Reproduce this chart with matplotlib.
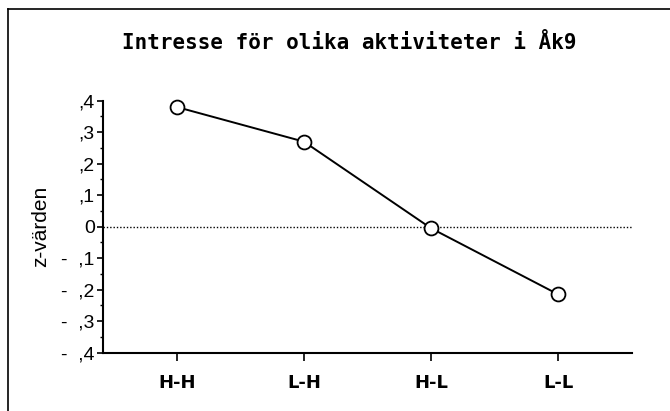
import matplotlib.pyplot as plt
from matplotlib.lines import Line2D
from matplotlib.ticker import FixedLocator, MultipleLocator

# data
groups = ["H-H", "L-H", "H-L", "L-L"]
z_values = [0.38, 0.27, -0.005, -0.215]
y_ticks = [0.4, 0.3, 0.2, 0.1, 0.0, -0.1, -0.2, -0.3, -0.4]
y_labels = [",4", ",3", ",2", ",1", "0", "-  ,1", "-  ,2", "-  ,3", "-  ,4"]

fig = plt.figure(figsize=(6.7, 4.11), dpi=100)
fig.patch.set_facecolor("white")

# frame: only the left and top edges are inside the scan
fx0, fy1 = 7.5 / 670, 1 - 9 / 411
fig.add_artist(Line2D([fx0, fx0], [0, fy1], transform=fig.transFigure,
                      color="black", linewidth=1.2))
fig.add_artist(Line2D([fx0, 1], [fy1, fy1], transform=fig.transFigure,
                      color="black", linewidth=1.2))

ax = fig.add_axes([103 / 670, 58.3 / 411, 529 / 670, 252 / 411])
x = list(range(len(groups)))

ax.axhline(0, color="black", linestyle=(0, (1, 1.4)), linewidth=1.0, zorder=1)
ax.plot(x, z_values, color="black", linewidth=1.4, marker="o",
        markersize=10, markerfacecolor="white", markeredgecolor="black",
        markeredgewidth=1.3, zorder=3, clip_on=False)

ax.set_xlim(-0.58, 3.58)
ax.set_ylim(-0.4, 0.4)

for side in ["top", "right"]:
    ax.spines[side].set_visible(False)
for side in ["left", "bottom"]:
    ax.spines[side].set_linewidth(1.5)

ax.set_xticks(x)
ax.set_xticklabels(groups, fontsize=13, fontweight="bold",
                   family="DejaVu Sans")
ax.tick_params(axis="x", length=6, width=1.2, pad=9)

ax.yaxis.set_major_locator(FixedLocator(y_ticks))
ax.set_yticklabels(y_labels, fontsize=14, family="Liberation Sans")
ax.yaxis.set_minor_locator(MultipleLocator(0.05))
ax.tick_params(axis="y", which="major", length=4, width=1.2, pad=2)
ax.tick_params(axis="y", which="minor", length=2.5, width=1.0)

ax.set_ylabel("z-värden", fontsize=15, family="Liberation Sans", labelpad=8)

fig.text(349 / 670, 1 - 43 / 411, "Intresse för olika aktiviteter i Åk9",
         ha="center", va="center", fontsize=15, fontweight="bold",
         family="DejaVu Sans Mono")

fig.savefig("out.png", dpi=100, facecolor="white")
